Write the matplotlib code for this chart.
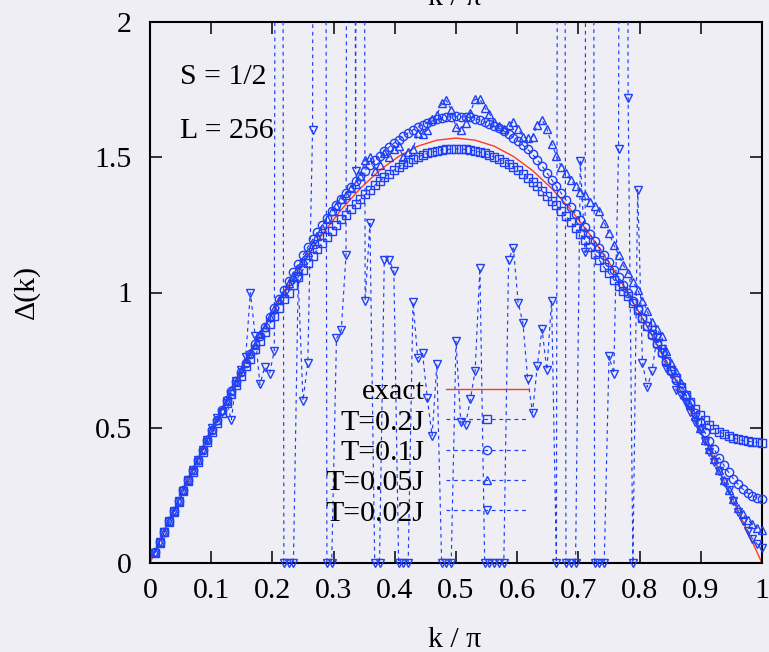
import numpy as np
import matplotlib
matplotlib.use("Agg")
import matplotlib.pyplot as plt
from matplotlib.lines import Line2D

# ---------------- data ----------------
k = np.arange(1, 129) / 128.0          # k / pi grid (L = 256)

k_exact = np.arange(0, 129, 4) / 128.0
d_exact = [0.000, 0.154, 0.306, 0.456, 0.601, 0.741, 0.873, 0.997, 1.111, 1.214,
           1.306, 1.385, 1.451, 1.503, 1.541, 1.563, 1.571, 1.563, 1.541, 1.503,
           1.451, 1.385, 1.306, 1.214, 1.111, 0.997, 0.873, 0.741, 0.601, 0.456,
           0.306, 0.154, 0.000]

d_T02 = [0.037, 0.075, 0.114, 0.152, 0.188, 0.227, 0.265, 0.302, 0.337, 0.375,
         0.412, 0.449, 0.483, 0.519, 0.555, 0.591, 0.623, 0.658, 0.692, 0.727,
         0.756, 0.790, 0.822, 0.855, 0.883, 0.914, 0.944, 0.975, 1.000, 1.029,
         1.057, 1.085, 1.108, 1.134, 1.159, 1.184, 1.204, 1.228, 1.250, 1.272,
         1.287, 1.307, 1.327, 1.345, 1.363, 1.380, 1.396, 1.411, 1.426, 1.439,
         1.452, 1.463, 1.474, 1.484, 1.493, 1.501, 1.508, 1.514, 1.519, 1.523,
         1.527, 1.529, 1.530, 1.531, 1.530, 1.529, 1.527, 1.523, 1.519, 1.514,
         1.508, 1.501, 1.493, 1.484, 1.474, 1.463, 1.452, 1.439, 1.424, 1.408,
         1.392, 1.375, 1.358, 1.340, 1.322, 1.302, 1.282, 1.261, 1.239, 1.217,
         1.193, 1.169, 1.144, 1.119, 1.093, 1.071, 1.048, 1.025, 1.006, 0.988,
         0.962, 0.935, 0.906, 0.875, 0.845, 0.812, 0.780, 0.748, 0.715, 0.683,
         0.652, 0.622, 0.595, 0.570, 0.546, 0.527, 0.510, 0.497, 0.486, 0.477,
         0.469, 0.462, 0.457, 0.453, 0.450, 0.448, 0.446, 0.445]

d_T01 = [0.039, 0.077, 0.116, 0.154, 0.192, 0.231, 0.269, 0.306, 0.344, 0.382,
         0.419, 0.456, 0.493, 0.529, 0.565, 0.601, 0.637, 0.672, 0.706, 0.741,
         0.774, 0.808, 0.840, 0.873, 0.908, 0.942, 0.976, 1.010, 1.042, 1.075,
         1.107, 1.138, 1.168, 1.196, 1.223, 1.250, 1.275, 1.300, 1.323, 1.346,
         1.368, 1.389, 1.411, 1.431, 1.451, 1.470, 1.488, 1.505, 1.522, 1.537,
         1.552, 1.565, 1.578, 1.590, 1.601, 1.611, 1.620, 1.628, 1.634, 1.640,
         1.645, 1.648, 1.650, 1.651, 1.650, 1.649, 1.647, 1.642, 1.637, 1.631,
         1.624, 1.616, 1.607, 1.597, 1.586, 1.573, 1.560, 1.545, 1.529, 1.511,
         1.491, 1.468, 1.443, 1.417, 1.392, 1.367, 1.342, 1.316, 1.292, 1.268,
         1.242, 1.216, 1.191, 1.166, 1.140, 1.113, 1.085, 1.057, 1.028, 0.999,
         0.969, 0.938, 0.907, 0.875, 0.843, 0.810, 0.777, 0.744, 0.711, 0.678,
         0.647, 0.616, 0.590, 0.555, 0.520, 0.485, 0.452, 0.420, 0.390, 0.362,
         0.336, 0.312, 0.291, 0.273, 0.259, 0.248, 0.241, 0.237]

d_T005 = [0.039, 0.078, 0.115, 0.155, 0.193, 0.229, 0.270, 0.307, 0.345, 0.380,
          0.421, 0.457, 0.494, 0.530, 0.567, 0.600, 0.640, 0.670, 0.709, 0.742,
          0.778, 0.806, 0.845, 0.874, 0.910, 0.938, 0.972, 1.000, 1.035, 1.062,
          1.090, 1.120, 1.150, 1.180, 1.210, 1.240, 1.270, 1.300, 1.320, 1.345,
          1.360, 1.385, 1.400, 1.430, 1.490, 1.500, 1.450, 1.470, 1.515, 1.500,
          1.530, 1.540, 1.500, 1.520, 1.530, 1.590, 1.585, 1.600, 1.640, 1.655,
          1.700, 1.710, 1.675, 1.610, 1.600, 1.625, 1.665, 1.714, 1.714, 1.683,
          1.660, 1.630, 1.615, 1.605, 1.620, 1.630, 1.606, 1.576, 1.570, 1.576,
          1.620, 1.638, 1.606, 1.550, 1.505, 1.465, 1.440, 1.416, 1.395, 1.373,
          1.360, 1.336, 1.320, 1.300, 1.258, 1.220, 1.176, 1.140, 1.100, 1.073,
          1.040, 1.010, 0.970, 0.930, 0.890, 0.865, 0.838, 0.785, 0.740, 0.706,
          0.665, 0.625, 0.585, 0.545, 0.500, 0.455, 0.420, 0.385, 0.345, 0.306,
          0.270, 0.235, 0.205, 0.180, 0.160, 0.143, 0.130, 0.122]

d_T002 = [0.038, 0.077, 0.115, 0.154, 0.192, 0.230, 0.268, 0.306, 0.344, 0.382,
          0.419, 0.456, 0.500, 0.535, 0.560, 0.600, 0.527, 0.672, 0.715, 0.760,
          1.000, 0.840, 0.660, 0.725, 0.700, 0.785, 12.0, 0.0, 0.0, 0.0,
          1.050, 0.600, 0.740, 1.600, 12.0, 12.0, 0.0, 0.0, 0.830, 0.860,
          1.140, 12.0, 1.450, 12.0, 0.970, 1.256, 0.0, 0.0, 1.120, 1.120,
          1.080, 0.0, 0.0, 0.0, 0.966, 0.757, 0.775, 0.610, 0.470, 0.735,
          0.0, 0.0, 0.0, 0.820, 0.520, 0.510, 0.605, 0.710, 1.090, 0.0,
          0.0, 0.0, 0.0, 0.0, 1.120, 1.165, 0.963, 0.886, 0.680, 0.556,
          0.728, 0.864, 0.713, 0.970, 0.0, 12.0, 0.0, 0.0, 0.0, 1.485,
          1.148, 12.0, 0.0, 0.0, 0.0, 0.765, 0.700, 1.530, 12.0, 1.720,
          0.0, 1.380, 0.740, 0.650, 0.710, 0.830, 0.790, 0.720, 0.700, 0.640,
          0.620, 0.590, 0.560, 0.520, 0.490, 0.450, 0.410, 0.375, 0.340, 0.300,
          0.270, 0.230, 0.190, 0.155, 0.120, 0.090, 0.070, 0.055]

labels = ["exact", "T=0.2J", "T=0.1J", "T=0.05J", "T=0.02J"]
xticks = [0, 0.1, 0.2, 0.3, 0.4, 0.5, 0.6, 0.7, 0.8, 0.9, 1]
xticklabels = ["0", "0.1", "0.2", "0.3", "0.4", "0.5", "0.6", "0.7", "0.8", "0.9", "1"]
yticks = [0, 0.5, 1, 1.5, 2]
yticklabels = ["0", "0.5", "1", "1.5", "2"]

# ---------------- style ----------------
plt.rcParams['font.family'] = ['Liberation Serif', 'DejaVu Serif']
FS = 21.5
BG = '#eeeef4'
BLUE = '#1f40f5'
RED = '#ff3a22'
MS = 6.0
MEW = 1.0

fig = plt.figure(figsize=(7.69, 6.52), dpi=100, facecolor=BG)
ax = fig.add_axes([150/769, (652-563)/652, 612/769, 541/652])
ax.set_facecolor(BG)

ax.plot(k_exact, d_exact, color=RED, lw=1.0, zorder=2)

series = [(d_T02, 's'), (d_T01, 'o'), (d_T005, '^'), (d_T002, 'v')]
handles = [Line2D([], [], color=RED, lw=1.0)]
for vals, mk in series:
    v = np.array(vals)
    ax.plot(k, v, color=BLUE, lw=0.85, ls=(0, (3.2, 3.2)), zorder=3)
    m = v <= 2.0
    ax.plot(k[m], v[m], ls='none', marker=mk, ms=MS, mfc='none', mec=BLUE,
            mew=MEW, clip_on=False, zorder=4)
    handles.append(Line2D([], [], color=BLUE, lw=0.85, ls=(0, (3.2, 3.2)),
                          marker=mk, ms=MS, mfc='none', mec=BLUE, mew=MEW))

ax.set_xlim(0, 1)
ax.set_ylim(0, 2)
ax.set_xticks(xticks)
ax.set_xticklabels(xticklabels)
ax.set_yticks(yticks)
ax.set_yticklabels(yticklabels)
ax.tick_params(direction='in', length=8.5, width=1.1, top=True, right=True,
               labelsize=FS, colors='black')
ax.tick_params(axis='x', pad=10.5)
ax.tick_params(axis='y', pad=13)
for s in ax.spines.values():
    s.set_linewidth(1.5)

leg = ax.legend(handles, labels, loc='center', bbox_to_anchor=(0.4534, 0.2040),
                frameon=False, fontsize=FS, markerfirst=False, numpoints=1,
                handlelength=2.8, handletextpad=0.7, labelspacing=0.115,
                borderpad=0.2)
for t in leg.get_texts():
    t.set_ha('right')

ax.text(30/612, 1 - (77-22)/541, "S = 1/2", transform=ax.transAxes,
        fontsize=FS, ha='left', va='center')
ax.text(30/612, 1 - (131-22)/541, "L = 256", transform=ax.transAxes,
        fontsize=FS, ha='left', va='center')

fig.text(455/769, 5/652, "k / π", fontsize=FS, ha='center', va='baseline')
fig.text(455/769, 1 - 5/652, "k / π", fontsize=FS, ha='center', va='baseline')
fig.text(26/769, 1 - 292/652, "Δ(k)", fontsize=FS, ha='center', va='center',
         rotation=90)

fig.savefig("out.png", dpi=100, facecolor=BG)
